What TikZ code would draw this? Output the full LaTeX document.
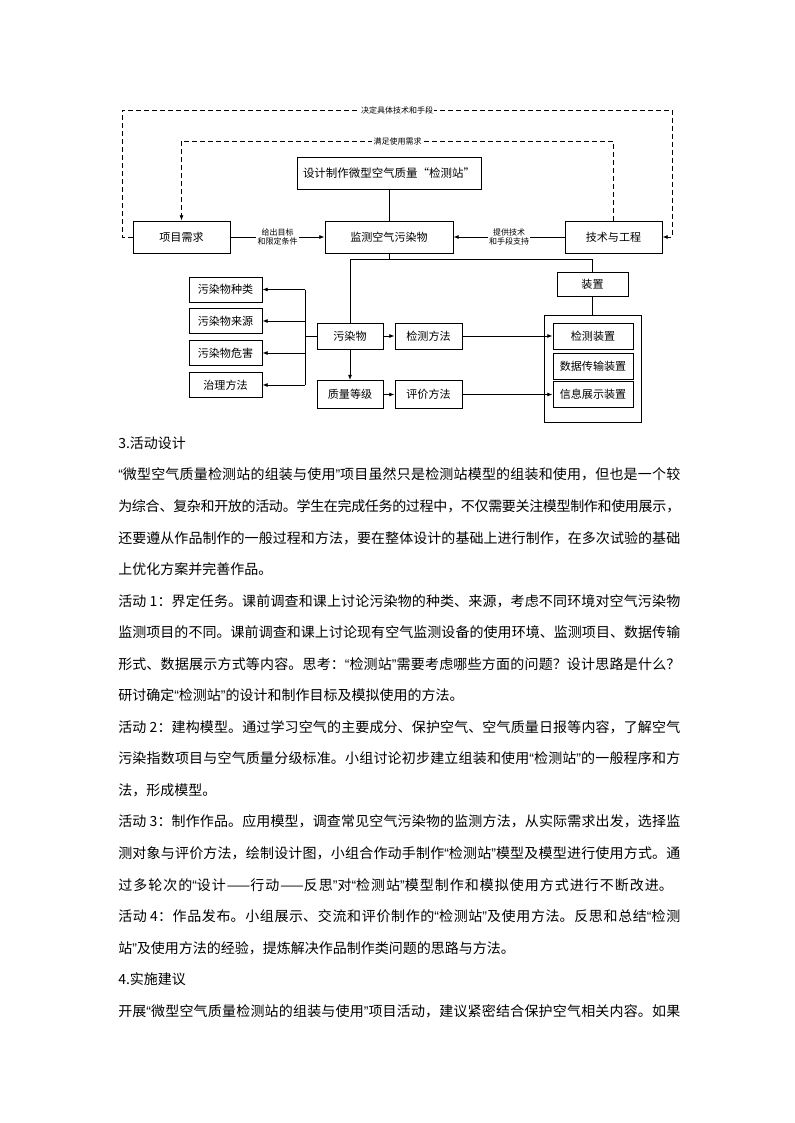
\documentclass[tikz,border=0pt]{standalone}
\usepackage{fontspec}
\setmainfont{Noto Sans CJK SC}
\newfontfamily\quotefont{Liberation Sans}
\usetikzlibrary{arrows.meta}
\XeTeXlinebreaklocale "zh"
\XeTeXlinebreakskip=0pt plus 1pt minus 0.4pt

\tikzset{
	box/.style={draw, line width=0.6pt, inner sep=0pt, minimum height=19.5pt, font=\fontsize{8.3}{10}\selectfont},
	arr/.style={line width=0.6pt, -{Latex[length=4pt,width=3pt]}},
	plain/.style={line width=0.6pt},
	fb/.style={line width=0.6pt, dash pattern=on 3.5pt off 2.5pt},
	lbl/.style={fill=white, inner sep=1pt, align=center, font=\fontsize{6}{6.5}\selectfont},
	para/.style={anchor=base west, yshift=-4pt, inner sep=0pt, font=\fontsize{10.5}{12}\selectfont}
}
\newcommand{\jline}[2][421.5pt]{\parbox[t]{#1}{\tolerance=9999\parfillskip=0pt\noindent #2}}
\newcommand{\lqm}{{\quotefont “}}
\newcommand{\rqm}{{\quotefont ”}}
\newcommand{\gap}{\hspace{2.5pt}}

\begin{document}
\begin{tikzpicture}[x=0.75pt,y=-0.75pt]
	\useasboundingbox (0,0) rectangle (794,1123);
	% upper part
	\node[box, minimum width=138pt, minimum height=24pt, font=\fontsize{8.6}{10}\selectfont] (design) at (389,173) {设计制作微型空气质量“检测站”};
	\node[box, minimum width=72.75pt, minimum height=24pt] (need) at (181.5,237) {项目需求};
	\node[box, minimum width=96pt, minimum height=24pt] (monitor) at (389,237) {监测空气污染物};
	\node[box, minimum width=72.75pt, minimum height=24pt] (tech) at (613.5,237) {技术与工程};
	\coordinate (tl) at (122,110);
	\coordinate (tr) at (672,110);
	\coordinate (il) at (181.5,141);
	\draw (design) -- (monitor);
	\draw[arr] (need) -- node[lbl]{给出目标\\和限定条件} (monitor);
	\draw[arr] (tech) -- node[lbl]{提供技术\\和手段支持} (monitor);
	\draw[fb, arr] (need.west) -| (tl) -- node[lbl]{决定具体技术和手段} (tr) |- (tech.east);
	\draw[fb, arr] (tech.north) |- node[lbl, pos=0.75]{满足使用需求} (il) -- (need.north);
	% lower part
	\node[box, minimum width=53.25pt, minimum height=18pt] (device) at (592.5,284.5) {装置};
	\node[draw, line width=0.6pt, minimum width=72.75pt, minimum height=80.25pt] (devgroup) at (592.5,368.5) {};
	\node[box, minimum width=60pt] (detdev) at (593,336) {检测装置};
	\node[box, minimum width=60pt] (datadev) at (593,366) {数据传输装置};
	\node[box, minimum width=60pt] (showdev) at (593,394.5) {信息展示装置};
	\node[box, minimum width=49.5pt] (pollut) at (350,336) {污染物};
	\node[box, minimum width=50.25pt] (detmeth) at (428.5,336) {检测方法};
	\node[box, minimum width=49.5pt, minimum height=21pt] (grade) at (350,394.5) {质量等级};
	\node[box, minimum width=50.25pt, minimum height=21pt] (evalmeth) at (428.5,394.5) {评价方法};
	\node[box, minimum width=54.75pt, minimum height=18.75pt] (kind) at (225.5,289.5) {污染物种类};
	\node[box, minimum width=54.75pt, minimum height=18.75pt] (source) at (225.5,321) {污染物来源};
	\node[box, minimum width=54.75pt, minimum height=18.75pt] (harm) at (225.5,353) {污染物危害};
	\node[box, minimum width=54.75pt, minimum height=18.75pt] (treat) at (225.5,385) {治理方法};
	\coordinate (split) at (389,259);
	\coordinate (bus) at (305,336);
	\draw[plain] (monitor.south) -- (split);
	\draw[plain] (pollut.north) -- (pollut.north |- split) -| (device.north);
	\draw[plain] (device) -- (devgroup);
	\draw[arr] (pollut) -- (detmeth);
	\draw[arr] (detmeth) -- (detdev);
	\draw[arr] (pollut) -- (grade);
	\draw[arr] (grade) -- (evalmeth);
	\draw[arr] (evalmeth) -- (showdev);
	\draw[plain] (pollut.west) -- (bus);
	\draw[plain] (bus |- kind) -- (bus |- treat);
	\draw[arr] (bus |- kind) -- (kind);
	\draw[arr] (bus |- source) -- (source);
	\draw[arr] (bus |- harm) -- (harm);
	\draw[arr] (bus |- treat) -- (treat);
	% text
	\node[para] (t0) at (118,443) {3.活动设计};
	\node[para] (t1) at (118,474.6) {\jline{\lqm 微型空气质量检测站的组装与使用\rqm 项目虽然只是检测站模型的组装和使用，但也是一个较}};
	\node[para] (t2) at (118,506.1) {\jline{为综合、复杂和开放的活动。学生在完成任务的过程中，不仅需要关注模型制作和使用展示，}};
	\node[para] (t3) at (118,537.7) {\jline{还要遵从作品制作的一般过程和方法，要在整体设计的基础上进行制作，在多次试验的基础}};
	\node[para] (t4) at (118,569.2) {上优化方案并完善作品。};
	\node[para] (t5) at (118,600.8) {\jline{活动\gap 1：界定任务。课前调查和课上讨论污染物的种类、来源，考虑不同环境对空气污染物}};
	\node[para] (t6) at (118,632.3) {\jline{监测项目的不同。课前调查和课上讨论现有空气监测设备的使用环境、监测项目、数据传输}};
	\node[para] (t7) at (118,663.9) {\jline{形式、数据展示方式等内容。思考：\lqm 检测站\rqm 需要考虑哪些方面的问题？设计思路是什么？}};
	\node[para] (t8) at (118,695.4) {研讨确定\lqm 检测站\rqm 的设计和制作目标及模拟使用的方法。};
	\node[para] (t9) at (118,727) {\jline{活动\gap 2：建构模型。通过学习空气的主要成分、保护空气、空气质量日报等内容，了解空气}};
	\node[para] (t10) at (118,758.5) {\jline{污染指数项目与空气质量分级标准。小组讨论初步建立组装和使用\lqm 检测站\rqm 的一般程序和方}};
	\node[para] (t11) at (118,790.1) {法，形成模型。};
	\node[para] (t12) at (118,821.6) {\jline{活动\gap 3：制作作品。应用模型，调查常见空气污染物的监测方法，从实际需求出发，选择监}};
	\node[para] (t13) at (118,853.2) {\jline{测对象与评价方法，绘制设计图，小组合作动手制作\lqm 检测站\rqm 模型及模型进行使用方式。通}};
	\node[para] (t14) at (118,884.7) {\jline[416pt]{过多轮次的\lqm 设计——行动——反思\rqm 对\lqm 检测站\rqm 模型制作和模拟使用方式进行不断改进。}};
	\node[para] (t15) at (118,916.3) {\jline{活动\gap 4：作品发布。小组展示、交流和评价制作的\lqm 检测站\rqm 及使用方法。反思和总结\lqm 检测}};
	\node[para] (t16) at (118,947.8) {站\rqm 及使用方法的经验，提炼解决作品制作类问题的思路与方法。};
	\node[para] (t17) at (118,979.4) {4.实施建议};
	\node[para] (t18) at (118,1010.9) {\jline{开展\lqm 微型空气质量检测站的组装与使用\rqm 项目活动，建议紧密结合保护空气相关内容。如果}};
\end{tikzpicture}
\end{document}
